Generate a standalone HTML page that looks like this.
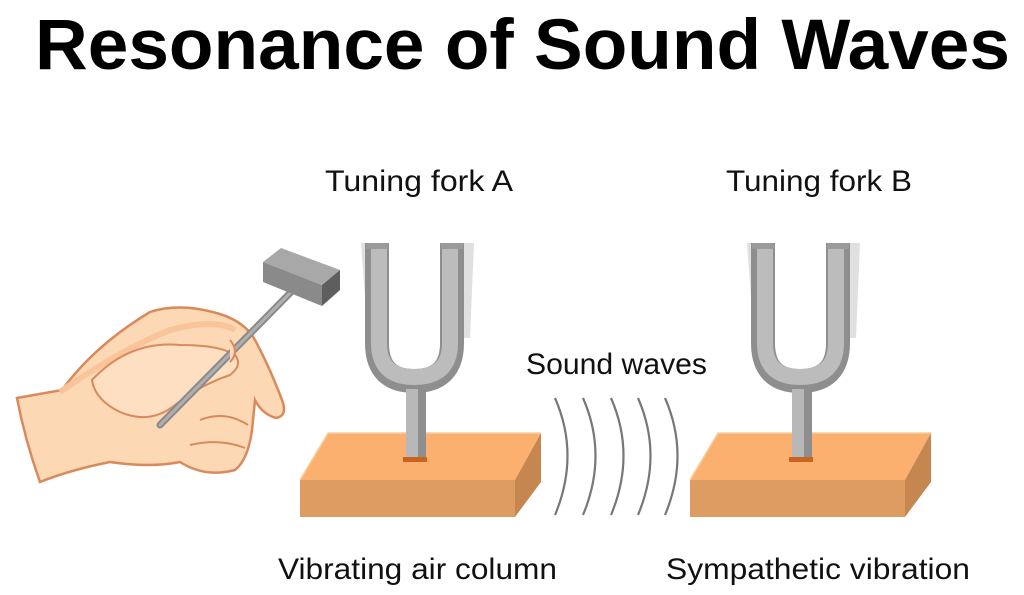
<!DOCTYPE html>
<html><head><meta charset="utf-8"><style>
html,body{margin:0;padding:0;background:#fff;}
svg{display:block;}
</style></head><body>
<svg width="1024" height="595" viewBox="0 0 1024 595" xmlns="http://www.w3.org/2000/svg">
<defs>
<g id="fork">
  <path d="M-16 0 L-5 0 L-5 95 L-9 95 Z" fill="#e0e0e0"/>
  <path d="M86 0 L97 0 L93 95 L86 95 Z" fill="#e0e0e0"/>
  <path d="M0 0 V100 Q0 138 37 138 Q75 138 75 100 V0" fill="none" stroke="#8e8e8e" stroke-width="24"/>
  <path d="M2 0 V100 Q2 134 37 134 Q73 134 73 100 V0" fill="none" stroke="#bcbcbc" stroke-width="16"/>
  <rect x="-11" y="0" width="22" height="6" fill="#9a9a9a"/>
  <rect x="64" y="0" width="22" height="6" fill="#9a9a9a"/>
  <rect x="29" y="146" width="20" height="70" fill="#b8b8b8"/>
  <rect x="41" y="146" width="8" height="70" fill="#8e8e8e"/>
  <rect x="26" y="214" width="24" height="5" fill="#c8641e"/>
</g>
<g id="block">
  <polygon points="0,48 28,1 241,1 215,48" fill="#fbb06f"/>
  <rect x="0" y="48" width="215" height="37" fill="#dc9c62"/>
  <polygon points="215,48 241,1 241,50 215,85" fill="#c58650"/>
  <polyline points="0,48 28,1 241,1" fill="none" stroke="#f6cf9e" stroke-width="1.5"/>
</g>
</defs>

<text x="35" y="69" font-family="Liberation Sans, sans-serif" font-weight="bold" font-size="71" textLength="975" lengthAdjust="spacingAndGlyphs" fill="#000">Resonance of Sound Waves</text>

<g font-family="Liberation Sans, sans-serif" font-size="30" fill="#111">
<text x="325" y="191" textLength="188" lengthAdjust="spacingAndGlyphs">Tuning fork A</text>
<text x="726" y="191" textLength="186" lengthAdjust="spacingAndGlyphs">Tuning fork B</text>
<text x="526" y="374" textLength="181" lengthAdjust="spacingAndGlyphs">Sound waves</text>
<text x="278" y="579" textLength="279" lengthAdjust="spacingAndGlyphs">Vibrating air column</text>
<text x="666" y="579" textLength="304" lengthAdjust="spacingAndGlyphs">Sympathetic vibration</text>
</g>

<use href="#block" x="300" y="432"/>
<use href="#block" x="690" y="432"/>
<use href="#fork" x="377" y="243"/>
<use href="#fork" x="763" y="243"/>

<g fill="none" stroke="#777" stroke-width="2.2">
<path d="M555 398 Q580 455 555 515"/>
<path d="M583 398 Q608 455 583 515"/>
<path d="M611 398 Q636 455 611 515"/>
<path d="M638 398 Q663 455 638 515"/>
<path d="M665 398 Q690 455 665 515"/>
</g>

<path d="M17 398 L62 390 Q95 345 150 312 Q180 302 220 314 Q245 322 255 340 Q270 368 282 400 Q288 416 276 418 Q262 414 255 400 L252 430 Q248 460 235 470 Q205 478 180 462 Q150 468 110 462 Q70 470 40 482 Q25 440 17 398 Z" fill="#fdd8b4" stroke="#d98a5c" stroke-width="2.5"/>
<path d="M60 392 Q120 350 170 330 Q215 318 235 330" fill="none" stroke="#f9c49a" stroke-width="6"/>
<path d="M92 380 Q130 340 180 345 Q220 345 235 355 Q243 365 230 375 Q200 385 175 405 Q150 425 120 412 Q95 400 92 380Z" fill="#fedfc2" stroke="#d98a5c" stroke-width="2"/>
<path d="M200 420 Q225 410 248 425" fill="none" stroke="#d98a5c" stroke-width="2"/>
<path d="M190 445 Q220 438 245 448" fill="none" stroke="#d98a5c" stroke-width="2"/>
<line x1="160" y1="425" x2="295" y2="288" stroke="#8a8a8a" stroke-width="7" stroke-linecap="round"/>
<line x1="160" y1="425" x2="295" y2="288" stroke="#b0b0b0" stroke-width="3" stroke-linecap="round"/>
<path d="M230 340 Q240 352 230 362" fill="#fdd8b4" stroke="#d98a5c" stroke-width="2"/>
<polygon points="263,262 281,248 340,270 322,285" fill="#a8a8a8"/>
<polygon points="263,262 322,285 322,306 263,282" fill="#8a8a8a"/>
<polygon points="322,285 340,270 340,290 322,306" fill="#5e5e5e"/>
</svg>
</body></html>
